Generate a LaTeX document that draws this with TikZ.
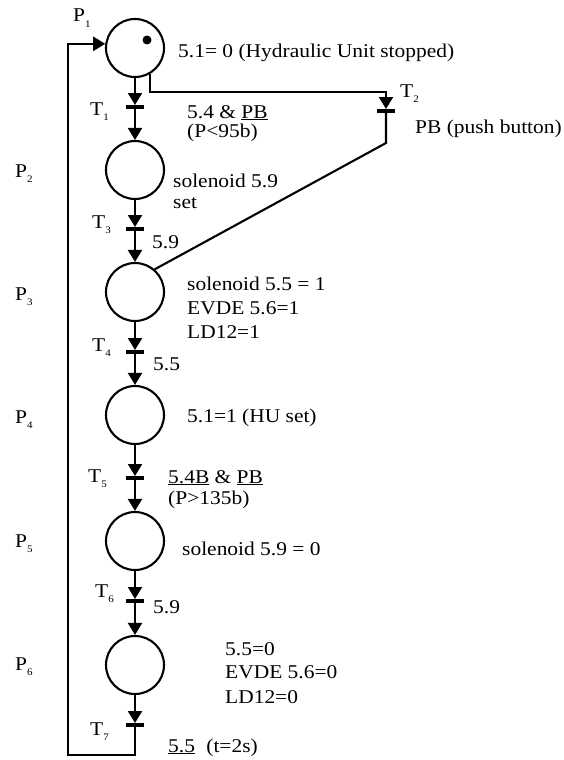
\documentclass[tikz,border=0pt]{standalone}
\usepackage{fontspec}
\setmainfont{Liberation Serif}[FakeStretch=1.1]
\usetikzlibrary{arrows.meta}
\newcommand\subs[1]{\raisebox{-0.3em}{\fontsize{10}{10}\selectfont #1}}
\begin{document}
\begin{tikzpicture}[x=1pt,y=-1pt,
 place/.style={circle,draw,line width=2.1pt,minimum size=58pt,inner sep=0},
 trans/.style={rectangle,fill=black,minimum width=18pt,minimum height=3.6pt,inner sep=0},
 arc/.style={line width=2.1pt,-{Triangle[width=14pt,length=12pt]}},
 link/.style={line width=2.1pt},
 lbl/.style={anchor=base west,inner sep=0,font=\fontsize{19.5}{24.5}\selectfont},
]
\useasboundingbox (0,0) rectangle (564,760);

\node[place] (P1) at (135,48) {};
\node[circle,fill=black,inner sep=0,minimum size=9pt] (tok) at (147,40) {};
\node[place] (P2) at (135,170) {};
\node[place] (P3) at (135,292) {};
\node[place] (P4) at (135,415) {};
\node[place] (P5) at (135,541) {};
\node[place] (P6) at (135,665) {};

\node[trans] (T1) at (135,107) {};
\node[trans] (T2) at (386,111) {};
\node[trans] (T3) at (135,229) {};
\node[trans] (T4) at (135,352) {};
\node[trans] (T5) at (135,478) {};
\node[trans] (T6) at (135,601) {};
\node[trans] (T7) at (135,725) {};

\coordinate (t2in) at (386,92);
\coordinate (t2out) at (386,143);
\coordinate (lb) at (68,755);

\draw[arc] (P1) -- (T1);
\draw[arc] (T1) -- (P2);
\draw[arc] (P2) -- (T3);
\draw[arc] (T3) -- (P3);
\draw[arc] (P3) -- (T4);
\draw[arc] (T4) -- (P4);
\draw[arc] (P4) -- (T5);
\draw[arc] (T5) -- (P5);
\draw[arc] (P5) -- (T6);
\draw[arc] (T6) -- (P6);
\draw[arc] (P6) -- (T7);
\draw[arc] (P1.-61) |- (t2in) -- (T2);
\draw[link] (T2) -- (t2out) -- (P3.49);
\draw[arc] (T7) |- (lb) |- (P1.172);

\node[lbl] (lP1) at (73,22) {P\subs{1}};
\node[lbl] (lP2) at (15,177) {P\subs{2}};
\node[lbl] (lP3) at (15,300) {P\subs{3}};
\node[lbl] (lP4) at (15,423) {P\subs{4}};
\node[lbl] (lP5) at (15,547) {P\subs{5}};
\node[lbl] (lP6) at (15,670) {P\subs{6}};

\node[lbl] (lT1) at (90,115) {T\subs{1}};
\node[lbl] (lT2) at (400,97) {T\subs{2}};
\node[lbl] (lT3) at (92,228) {T\subs{3}};
\node[lbl] (lT4) at (92,351) {T\subs{4}};
\node[lbl] (lT5) at (88,482) {T\subs{5}};
\node[lbl] (lT6) at (95,597) {T\subs{6}};
\node[lbl] (lT7) at (90,735) {T\subs{7}};

\node[lbl] (x1) at (178,57) {5.1= 0 (Hydraulic Unit stopped)};
\node[lbl] (x2) at (187,118) {5.4 \& \underline{PB}};
\node[lbl] (x3) at (187,137) {(P<95b)};
\node[lbl] (x4) at (415,133) {PB (push button)};
\node[lbl] (x5) at (173,187) {solenoid 5.9};
\node[lbl] (x6) at (173,208) {set};
\node[lbl] (x7) at (152,248) {5.9};
\node[lbl] (x8) at (187,290) {solenoid 5.5 = 1};
\node[lbl] (x9) at (187,314) {EVDE 5.6=1};
\node[lbl] (x10) at (187,338) {LD12=1};
\node[lbl] (x11) at (153,370) {5.5};
\node[lbl] (x12) at (187,422) {5.1=1 (HU set)};
\node[lbl] (x13) at (168,483) {\underline{5.4B} \& \underline{PB}};
\node[lbl] (x14) at (168,504) {(P>135b)};
\node[lbl] (x15) at (182,555) {solenoid 5.9 = 0};
\node[lbl] (x16) at (153,613) {5.9};
\node[lbl] (x17) at (225,655) {5.5=0};
\node[lbl] (x18) at (225,678) {EVDE 5.6=0};
\node[lbl] (x19) at (225,703) {LD12=0};
\node[lbl] (x20) at (168,752) {\underline{5.5}\hspace{6pt} (t=2s)};
\end{tikzpicture}
\end{document}
